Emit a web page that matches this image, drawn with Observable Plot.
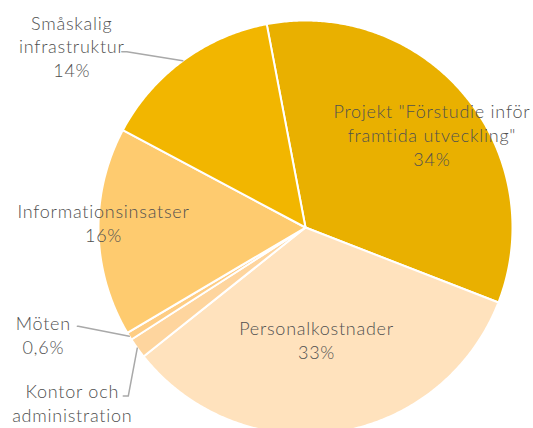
<!DOCTYPE html>
<html><head><meta charset="utf-8">
<script src="https://cdn.jsdelivr.net/npm/d3@7"></script>
<script src="https://cdn.jsdelivr.net/npm/@observablehq/plot@0.6"></script>
<style>
html,body{margin:0;padding:0;background:#fff;overflow:hidden}
#chart svg{display:block;overflow:hidden}
#chart svg text{letter-spacing:0.75px}
</style>
</head><body><div id="chart"></div>
<script>
// ---- data ----
const categories = ["Projekt \"Förstudie inför framtida utveckling\"", "Personalkostnader", "Kontor och administration", "Möten", "Informationsinsatser", "Småskalig infrastruktur"];
const shares = [33.9, 33.4, 1.6, 0.6, 16.3, 14.2];
const shareLabels = ["34%", "33%", "", "0,6%", "16%", "14%"];
const nameLines = [["Projekt \"Förstudie inför", "framtida utveckling\""], ["Personalkostnader"], ["Kontor och", "administration"], ["Möten"], ["Informationsinsatser"], ["Småskalig", "infrastruktur"]];
const colors = ["#E9B000", "#FFE2BD", "#FED59E", "#FECD84", "#FECB6F", "#F2B600"];

// ---- layout ----
const startDeg = -10.8;
const R = 207, cx = 305, cy = 227;
const fontSize = 18;
// inside labels: radius factor + pixel nudge
const inside = {0: {r: 0.757, dx: 6, dy: 7}, 1: {r: 0.548, dx: -6, dy: 0}, 4: {r: 0.976, dx: 0, dy: -10}};
// outside labels: leader elbow offset, hook, text offset (pixels)
const outside = {
  2: {elbow: [-9, 48], hook: -5, text: [-51, 6]},
  3: {elbow: [-51, -10], hook: -1, text: [-34, 8]},
  5: {elbow: [-56, -9], hook: -5, text: [-50, -6]}
};

const total = d3.sum(shares);
let acc = startDeg;
const slices = categories.map((c, i) => {
  const a0 = acc, a1 = acc + shares[i] / total * 360;
  acc = a1;
  return {c, i, a0, a1, mid: (a0 + a1) / 2};
});
const rad = d => d * Math.PI / 180;
const polar = (deg, r) => [r * Math.sin(rad(deg)), r * Math.cos(rad(deg))];

const pts = slices.flatMap(s => {
  const n = Math.max(2, Math.ceil((s.a1 - s.a0) / 0.5));
  const arr = [{c: s.c, x: 0, y: 0}];
  for (let k = 0; k <= n; k++) {
    const [x, y] = polar(s.a0 + (s.a1 - s.a0) * k / n, 1);
    arr.push({c: s.c, x, y});
  }
  arr.push({c: s.c, x: 0, y: 0});
  return arr;
});

const leaders = [];
const labels = [];
slices.forEach(s => {
  const text = [...nameLines[s.i], shareLabels[s.i]].filter(t => t).join("\n");
  if (inside[s.i]) {
    const L = inside[s.i];
    const [x, y] = polar(s.mid, L.r);
    labels.push({x: x + L.dx / R, y: y - L.dy / R, text});
  } else if (outside[s.i]) {
    const O = outside[s.i];
    const [x0, y0] = polar(s.mid, 1);
    const x1 = x0 + O.elbow[0] / R, y1 = y0 - O.elbow[1] / R;
    const x2 = x1 + O.hook / R, y2 = y1;
    leaders.push({c: s.c, x: x0, y: y0}, {c: s.c, x: x1, y: y1}, {c: s.c, x: x2, y: y2});
    labels.push({x: x2 + O.text[0] / R, y: y2 - O.text[1] / R, text});
  }
});

const chart = Plot.plot({
  width: 533, height: 428, margin: 0,
  x: {domain: [-1, 1], range: [cx - R, cx + R], axis: null},
  y: {domain: [-1, 1], range: [cy + R, cy - R], axis: null},
  color: {domain: categories, range: colors},
  style: {fontFamily: "Lato, sans-serif", background: "#fff"},
  marks: [
    Plot.line(pts, {x: "x", y: "y", z: "c", fill: "c", stroke: "white", strokeWidth: 2, strokeLinejoin: "round"}),
    Plot.line(leaders, {x: "x", y: "y", z: "c", stroke: "#A9A9A9", strokeWidth: 1.5}),
    Plot.text(labels, {x: "x", y: "y", text: "text", fontSize, fontWeight: 300, lineHeight: 1.33, fill: "#505050", textAnchor: "middle", lineAnchor: "middle"})
  ]
});
document.getElementById("chart").append(chart);
</script>
</body></html>
